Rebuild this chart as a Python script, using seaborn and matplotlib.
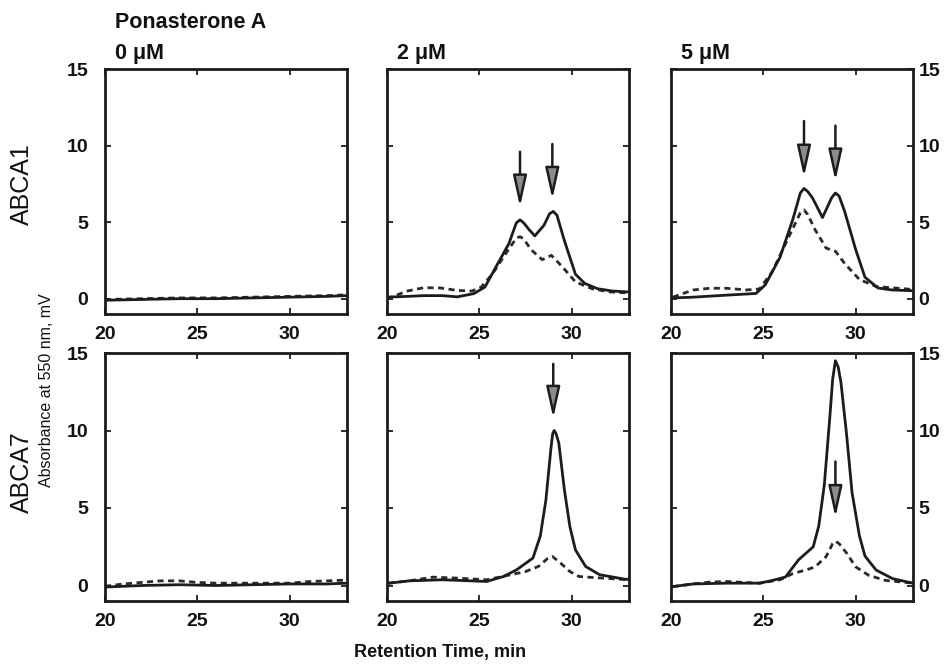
import matplotlib
matplotlib.use("Agg")
import matplotlib.pyplot as plt
import seaborn as sns

# ---------------- data ----------------
genes = ["ABCA1", "ABCA7"]
doses = ["0 μM", "2 μM", "5 μM"]
x_ticks = [20, 25, 30]
y_ticks = [0, 5, 10, 15]

# ABCA1, 0 uM
a1_0_t_solid = [20, 22, 24, 26, 28, 30, 32, 33.1]
a1_0_y_solid = [-0.1, -0.05, 0.0, 0.0, 0.05, 0.1, 0.15, 0.2]
a1_0_t_dash = [20, 22, 24, 26, 28, 30, 32, 33.1]
a1_0_y_dash = [-0.05, 0.0, 0.05, 0.05, 0.1, 0.15, 0.2, 0.25]

# ABCA1, 2 uM
a1_2_t_solid = [20.0, 21.1, 22.0, 23.0, 23.8, 24.7, 25.3, 26.0, 26.6, 27.0, 27.2, 27.4,
                27.7, 28.0, 28.5, 28.8, 29.0, 29.2, 29.6, 30.2, 30.7, 31.4, 32.2, 33.1]
a1_2_y_solid = [0.1, 0.15, 0.2, 0.2, 0.12, 0.33, 0.76, 2.3, 3.6, 4.95, 5.15, 4.95,
                4.5, 4.1, 4.8, 5.55, 5.7, 5.45, 3.8, 1.6, 1.0, 0.65, 0.5, 0.44]
a1_2_t_dash = [20.0, 21.1, 22.0, 22.9, 23.8, 24.6, 25.1, 25.7, 26.4, 27.0, 27.2, 27.4,
               27.8, 28.4, 28.9, 29.5, 30.2, 31.1, 32.0, 33.1]
a1_2_y_dash = [0.0, 0.5, 0.72, 0.7, 0.54, 0.5, 0.76, 1.6, 2.9, 3.95, 4.05, 3.9,
               3.2, 2.55, 2.83, 2.07, 1.1, 0.65, 0.45, 0.37]

# ABCA1, 5 uM
a1_5_t_solid = [20.1, 21.2, 23.0, 24.6, 25.1, 25.9, 26.6, 27.0, 27.2, 27.4, 27.65, 28.2,
                28.7, 28.9, 29.1, 29.4, 30.0, 30.5, 31.2, 31.95, 33.1]
a1_5_y_solid = [0.05, 0.1, 0.23, 0.34, 0.9, 2.7, 5.2, 6.9, 7.2, 7.0, 6.6, 5.3,
                6.6, 6.9, 6.7, 5.7, 3.2, 1.4, 0.7, 0.57, 0.52]
a1_5_t_dash = [20.1, 21.2, 22.1, 23.0, 24.1, 24.8, 25.5, 26.2, 27.0, 27.2, 27.4, 27.8,
               28.4, 28.9, 29.4, 30.2, 31.1, 33.1]
a1_5_y_dash = [0.1, 0.57, 0.68, 0.68, 0.57, 0.64, 1.8, 3.6, 5.6, 5.8, 5.5, 4.5,
               3.3, 3.1, 2.3, 1.25, 0.8, 0.6]

# ABCA7, 0 uM
a7_0_t_solid = [20, 22, 24, 26, 28, 30, 32, 33.1]
a7_0_y_solid = [-0.1, 0.0, 0.05, 0.0, 0.05, 0.1, 0.1, 0.15]
a7_0_t_dash = [20, 21, 22, 23, 24, 25, 26, 28, 30, 31, 32, 33.1]
a7_0_y_dash = [-0.05, 0.1, 0.2, 0.3, 0.3, 0.2, 0.15, 0.15, 0.15, 0.25, 0.3, 0.35]

# ABCA7, 2 uM
a7_2_t_solid = [20.1, 21.2, 23.0, 25.4, 26.3, 27.0, 27.9, 28.3, 28.6, 28.87, 28.97, 29.05,
                29.15, 29.3, 29.6, 29.9, 30.2, 30.75, 31.5, 32.9, 33.1]
a7_2_y_solid = [0.15, 0.3, 0.37, 0.26, 0.58, 1.0, 1.77, 3.2, 5.5, 8.8, 9.8, 10.0,
                9.8, 9.2, 6.2, 3.8, 2.3, 1.23, 0.7, 0.4, 0.4]
a7_2_t_dash = [20.1, 21.2, 22.5, 23.9, 25.4, 26.4, 27.5, 28.2, 28.7, 28.95, 29.3, 29.9,
               30.4, 31.1, 33.1]
a7_2_y_dash = [0.15, 0.3, 0.54, 0.47, 0.37, 0.62, 0.9, 1.23, 1.75, 1.87, 1.55, 0.9,
               0.58, 0.52, 0.37]

# ABCA7, 5 uM
a7_5_t_solid = [20.1, 21.2, 23.0, 24.8, 25.5, 26.2, 26.9, 27.7, 28.0, 28.3, 28.6, 28.75,
                28.9, 29.05, 29.2, 29.5, 29.8, 30.2, 30.5, 31.1, 32.0, 33.1]
a7_5_y_solid = [-0.07, 0.1, 0.15, 0.15, 0.33, 0.55, 1.65, 2.5, 3.85, 6.5, 10.9, 13.3,
                14.5, 14.1, 13.1, 9.8, 6.0, 3.2, 1.9, 1.0, 0.44, 0.15]
a7_5_t_dash = [20.1, 21.2, 22.1, 23.0, 23.9, 24.8, 25.9, 26.6, 27.3, 27.8, 28.4, 28.75,
               28.9, 29.1, 29.5, 30.0, 30.7, 31.6, 33.1]
a7_5_y_dash = [-0.07, 0.1, 0.22, 0.26, 0.2, 0.15, 0.37, 0.77, 1.0, 1.2, 1.87, 2.7,
               2.86, 2.7, 2.1, 1.2, 0.66, 0.33, 0.15]

# arrows: x position, tail value, tip value
a1_2_arrow_x, a1_2_arrow_tail, a1_2_arrow_tip = [27.2, 28.95], [9.6, 10.1], [6.0, 6.5]
a1_5_arrow_x, a1_5_arrow_tail, a1_5_arrow_tip = [27.2, 28.9], [11.6, 11.3], [7.95, 7.7]
a7_2_arrow_x, a7_2_arrow_tail, a7_2_arrow_tip = [29.0], [14.3], [10.8]
a7_5_arrow_x, a7_5_arrow_tail, a7_5_arrow_tip = [28.9], [8.0], [4.4]

panels = [
    [(a1_0_t_solid, a1_0_y_solid, a1_0_t_dash, a1_0_y_dash, None),
     (a1_2_t_solid, a1_2_y_solid, a1_2_t_dash, a1_2_y_dash,
      (a1_2_arrow_x, a1_2_arrow_tail, a1_2_arrow_tip)),
     (a1_5_t_solid, a1_5_y_solid, a1_5_t_dash, a1_5_y_dash,
      (a1_5_arrow_x, a1_5_arrow_tail, a1_5_arrow_tip))],
    [(a7_0_t_solid, a7_0_y_solid, a7_0_t_dash, a7_0_y_dash, None),
     (a7_2_t_solid, a7_2_y_solid, a7_2_t_dash, a7_2_y_dash,
      (a7_2_arrow_x, a7_2_arrow_tail, a7_2_arrow_tip)),
     (a7_5_t_solid, a7_5_y_solid, a7_5_t_dash, a7_5_y_dash,
      (a7_5_arrow_x, a7_5_arrow_tail, a7_5_arrow_tip))],
]

# ---------------- style ----------------
sns.set_theme(style="ticks")
plt.rcParams["font.family"] = ["Liberation Sans", "DejaVu Sans"]
plt.rcParams["font.weight"] = "bold"

W, H = 945, 666
fig = plt.figure(figsize=(W / 100, H / 100), dpi=100)

col_left = [105, 387, 671]
col_w = 242
row_top = [69, 353]
row_h = [245, 248]
ink = "#1c1c1c"

for r in range(2):
    for c in range(3):
        ts, ys, td, yd, arrows = panels[r][c]
        ax = fig.add_axes([col_left[c] / W, 1 - (row_top[r] + row_h[r]) / H,
                           col_w / W, row_h[r] / H])
        sns.lineplot(x=td, y=yd, ax=ax, color="#2a2a2a", linewidth=2.0,
                     linestyle=(0, (2.2, 1.6)))
        sns.lineplot(x=ts, y=ys, ax=ax, color=ink, linewidth=2.0)
        if arrows is not None:
            for ax_x, tail, tip in zip(*arrows):
                ax.annotate("", xy=(ax_x, tip), xytext=(ax_x, tail),
                            arrowprops=dict(arrowstyle="-|>,head_length=1.9,head_width=0.42",
                                            mutation_scale=10, lw=1.8, ec=ink,
                                            fc="#8c8c8c", shrinkA=0, shrinkB=0))
        ax.set_xlim(20, 33.1)
        ax.set_ylim(-1, 15)
        ax.set_xticks(x_ticks)
        ax.set_yticks(y_ticks)
        ax.set_xlabel("")
        ax.set_ylabel("")
        for s in ax.spines.values():
            s.set_linewidth(2.0)
            s.set_color(ink)
        ax.tick_params(axis="both", direction="in", length=4, width=1.3, color=ink,
                       top=True, right=True, labelsize=14, labelcolor="#111111")
        ax.tick_params(axis="x", pad=9)
        ax.tick_params(axis="y", labelleft=(c == 0), labelright=(c == 2))
        if c == 0:
            ax.tick_params(axis="y", pad=12)
        if c == 2:
            ax.tick_params(axis="y", pad=4)
        for lab in ax.get_xticklabels() + ax.get_yticklabels():
            lab.set_fontweight("bold")
        if r == 0:
            fig.text((col_left[c] + 10) / W, 1 - 53 / H, doses[c], fontsize=15.5,
                     fontweight="bold", va="center", ha="left", color="#111111")

fig.text(115 / W, 1 - 22 / H, "Ponasterone A", fontsize=15.5, fontweight="bold",
         va="center", ha="left", color="#111111")
fig.text(22 / W, 1 - 184 / H, genes[0], fontsize=18, fontweight="normal",
         rotation=90, va="center", ha="center", color="#111111")
fig.text(22 / W, 1 - 472 / H, genes[1], fontsize=18, fontweight="normal",
         rotation=90, va="center", ha="center", color="#111111")
fig.text(47 / W, 1 - 390 / H, "Absorbance at 550 nm, mV", fontsize=11.5,
         fontweight="normal", rotation=90, va="center", ha="center", color="#111111")
fig.text(440 / W, 1 - 652 / H, "Retention Time, min", fontsize=13, fontweight="bold",
         va="center", ha="center", color="#111111")

fig.savefig("out.png", dpi=100)
